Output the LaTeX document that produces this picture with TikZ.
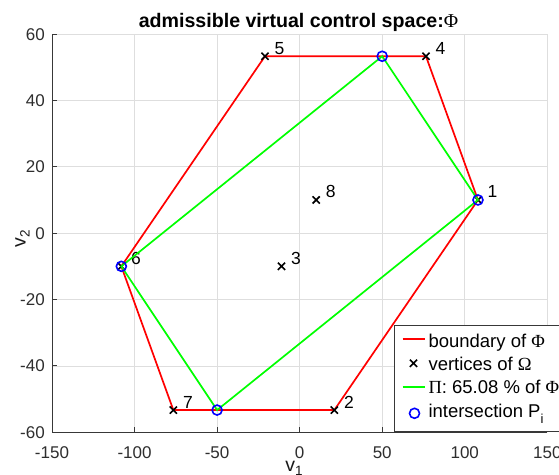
\documentclass[tikz,border=0pt]{standalone}
\usepackage{fontspec}
\setmainfont{Liberation Sans}
\newfontfamily\serifgreek{Liberation Serif}
\usetikzlibrary{shapes.misc}

\tikzset{
  gridline/.style={draw=black!13, line width=0.8pt},
  axisline/.style={draw=black!78, line width=1pt},
  ticklabel/.style={inner sep=0pt, font=\fontsize{17}{19}\selectfont, text=black!82},
  axislabel/.style={inner sep=0pt, font=\fontsize{19.5}{21}\selectfont, text=black!90},
  titletext/.style={inner sep=0pt, font=\fontsize{19.6}{22}\selectfont\bfseries},
  boundary/.style={draw=red, line width=1.7pt},
  piline/.style={draw=green, line width=1.7pt},
  xmark/.style={cross out, draw=black, line width=1.6pt, minimum size=5.6pt, inner sep=0pt},
  pmark/.style={circle, draw=blue, line width=1.6pt, minimum size=10pt, inner sep=0pt},
  ptlabel/.style={anchor=base west, inner sep=0pt, xshift=9.5pt, yshift=2pt,
                  font=\fontsize{17.5}{19}\selectfont},
  legtext/.style={anchor=base west, inner sep=0pt, font=\fontsize{18.5}{20}\selectfont},
  legbox/.style={draw=black!78, line width=0.9pt, fill=white},
}

\begin{document}
\begin{tikzpicture}[x=1pt,y=-1pt]
\useasboundingbox[fill=white] (0,0) rectangle (559,474);

% title
\node[titletext, anchor=base] (title) at (298.5,27.3)
  {admissible virtual control space:{\serifgreek\mdseries Φ}};

% data frame: v1 in [-150,150], v2 in [-60,60]
\begin{scope}[shift={(299.65pt,-233.15pt)}, x=1.651pt, y=3.319pt]
  \foreach \gx in {-150,-100,...,150}
    \draw[gridline] (\gx,-60) -- (\gx,60);
  \foreach \gy in {-60,-40,...,60}
    \draw[gridline] (-150,\gy) -- (150,\gy);

  \draw[axisline] (-150,60) -- (-150,-60) -- (150,-60);
  \foreach \gx in {-150,-100,...,150} {
    \draw[axisline] (\gx,-60) -- ++(0,5pt);
    \node[ticklabel, anchor=base, yshift=-26pt] (xt\gx) at (\gx,-60) {\gx};
  }
  \foreach \gy in {-60,-40,...,60} {
    \draw[axisline] (-150,\gy) -- ++(5pt,0);
    \node[ticklabel, anchor=base east, xshift=-7pt, yshift=-6pt] (yt\gy) at (-150,\gy) {\gy};
  }

  % vertices of Omega
  \coordinate (P1) at (108,10);
  \coordinate (P2) at (21,-53.3);
  \coordinate (P3) at (-11,-10);
  \coordinate (P4) at (76.5,53.3);
  \coordinate (P5) at (-21,53.3);
  \coordinate (P6) at (-108,-10);
  \coordinate (P7) at (-76.5,-53.3);
  \coordinate (P8) at (10,10);
  % intersection points
  \coordinate (I1) at (50,53.3);
  \coordinate (I3) at (-50,-53.3);

  % boundary of Phi
  \draw[boundary] (P1) -- (P4) -- (P5) -- (P6) -- (P7) -- (P2) -- cycle;
  \foreach \i in {1,...,8} {
    \node[xmark] (x\i) at (P\i) {};
    \node[ptlabel] (l\i) at (P\i) {\i};
  }
  % Pi polygon
  \draw[piline] (I1) -- (P1) -- (I3) -- (P6) -- cycle;
  \node[pmark] (c1) at (I1) {};
  \node[pmark] (c2) at (P1) {};
  \node[pmark] (c3) at (I3) {};
  \node[pmark] (c4) at (P6) {};
\end{scope}

% axis labels
\node[axislabel, anchor=base west] (v1) at (285.2,471.7)
  {v\raisebox{-4pt}{\fontsize{13.5}{14}\selectfont 1}};
\node[axislabel, anchor=base, rotate=90] (v2) at (25.5,239)
  {v\raisebox{-4pt}{\fontsize{13.5}{14}\selectfont 2}};

% legend
\draw[legbox] (394.3,325.7) rectangle (562,431.5);
\coordinate (lg1a) at (402.7,339);   \coordinate (lg1b) at (425,339);
\coordinate (lg3a) at (402.7,386.7); \coordinate (lg3b) at (425,386.7);
\draw[boundary] (lg1a) -- (lg1b);
\node[xmark] (lgx) at (413.5,363.3) {};
\draw[piline] (lg3a) -- (lg3b);
\node[pmark] (lgc) at (414.5,413.3) {};
\node[legtext] (t1) at (428.3,347.7) {boundary of {\serifgreek Φ}};
\node[legtext] (t2) at (428.3,370) {vertices of {\serifgreek Ω}};
\node[legtext] (t3) at (428.3,393.3) {{\serifgreek Π}: 65.08 \% of {\serifgreek Φ}};
\node[legtext] (t4) at (428.3,417.7)
  {intersection P\raisebox{-6pt}{\fontsize{13}{14}\selectfont i}};
\end{tikzpicture}
\end{document}
